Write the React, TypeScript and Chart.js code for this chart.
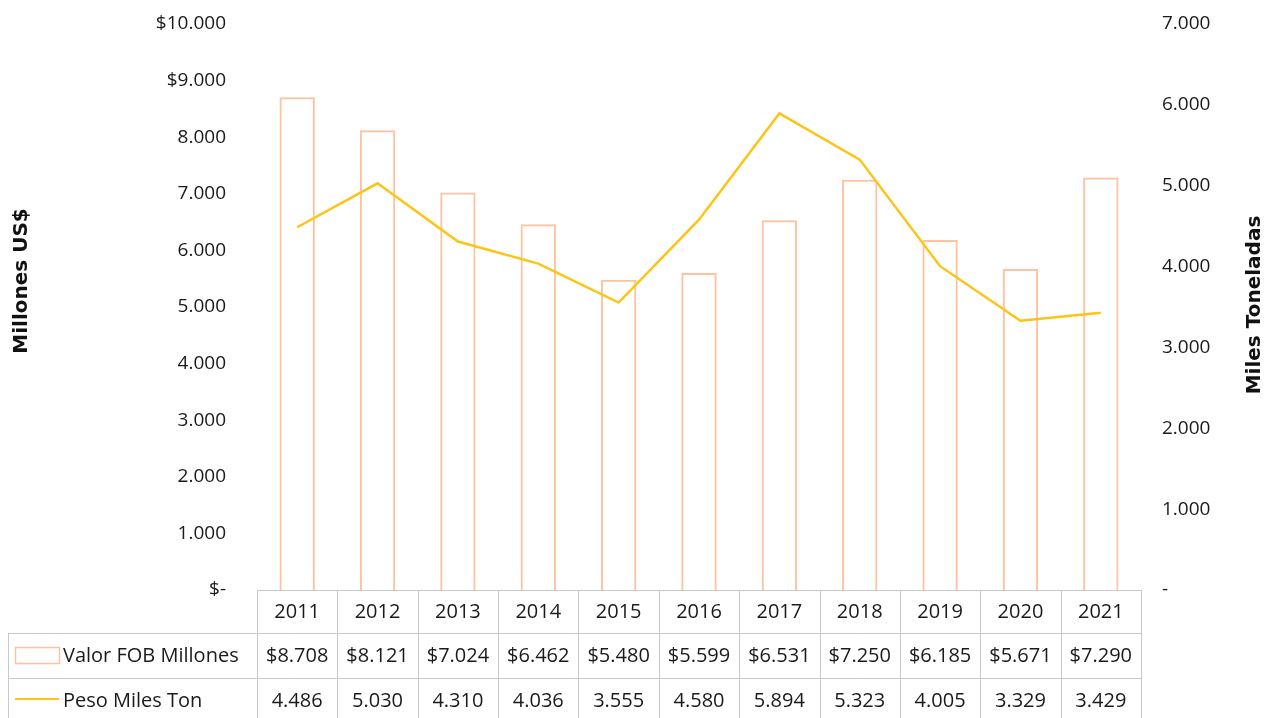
import React, { useEffect, useRef } from "react";
import { Chart, registerables } from "chart.js";

Chart.register(...registerables);

const years = ["2011", "2012", "2013", "2014", "2015", "2016", "2017", "2018", "2019", "2020", "2021"];
const valorFob = [8708, 8121, 7024, 6462, 5480, 5599, 6531, 7250, 6185, 5671, 7290];
const pesoMilesTon = [4486, 5030, 4310, 4036, 3555, 4580, 5894, 5323, 4005, 3329, 3429];
const valorLabels = ["$8.708", "$8.121", "$7.024", "$6.462", "$5.480", "$5.599", "$6.531", "$7.250", "$6.185", "$5.671", "$7.290"];
const pesoLabels = ["4.486", "5.030", "4.310", "4.036", "3.555", "4.580", "5.894", "5.323", "4.005", "3.329", "3.429"];
const leftTickLabels = ["$-", "1.000", "2.000", "3.000", "4.000", "5.000", "6.000", "7.000", "8.000", "$9.000", "$10.000"];
const rightTickLabels = ["-", "1.000", "2.000", "3.000", "4.000", "5.000", "6.000", "7.000"];
const seriesNames = ["Valor FOB Millones", "Peso Miles Ton"];
const axisTitles = ["Millones US$", "Miles Toneladas"];

const BAR_COLOR = "#FCC3A1";
const LINE_COLOR = "#FFC316";
const TEXT_COLOR = "#1a1a1a";
const GRID_COLOR = "#c9c9c9";
const FONT_FAMILY = "'Open Sans', 'Noto Sans', sans-serif";

const tablePlugin = {
  id: "dataTable",
  afterDraw(chart: any) {
    const ctx = chart.ctx as CanvasRenderingContext2D;
    const area = chart.chartArea;
    const xs = chart.scales.x;
    const n = years.length;
    const colW = (area.right - area.left) / n;
    const top0 = area.bottom;
    const r1 = top0 + 43;
    const r2 = r1 + 45;
    const r3 = r2 + 44;
    const tableLeft = 8;

    ctx.save();
    ctx.strokeStyle = GRID_COLOR;
    ctx.lineWidth = 1;
    ctx.beginPath();
    ctx.moveTo(area.left, top0 + 0.5);
    ctx.lineTo(area.right, top0 + 0.5);
    ctx.moveTo(tableLeft, r1 + 0.5);
    ctx.lineTo(area.right, r1 + 0.5);
    ctx.moveTo(tableLeft, r2 + 0.5);
    ctx.lineTo(area.right, r2 + 0.5);
    ctx.moveTo(tableLeft, r3 + 0.5);
    ctx.lineTo(area.right, r3 + 0.5);
    ctx.moveTo(tableLeft + 0.5, r1);
    ctx.lineTo(tableLeft + 0.5, r3);
    for (let i = 0; i <= n; i++) {
      const xPos = i < n ? xs.getPixelForValue(i) - colW / 2 : xs.getPixelForValue(n - 1) + colW / 2;
      const xx = Math.round(xPos) + 0.5;
      ctx.moveTo(xx, top0);
      ctx.lineTo(xx, r3);
    }
    ctx.stroke();

    ctx.fillStyle = TEXT_COLOR;
    ctx.font = `20px ${FONT_FAMILY}`;
    ctx.textAlign = "center";
    ctx.textBaseline = "middle";
    for (let i = 0; i < n; i++) {
      const cx = xs.getPixelForValue(i);
      ctx.fillText(years[i], cx, (top0 + r1) / 2 + 1);
      ctx.fillText(valorLabels[i], cx, (r1 + r2) / 2 + 1);
      ctx.fillText(pesoLabels[i], cx, (r2 + r3) / 2 + 1);
    }

    ctx.textAlign = "left";
    ctx.fillText(seriesNames[0], 63, (r1 + r2) / 2 + 1);
    ctx.fillText(seriesNames[1], 63, (r2 + r3) / 2 + 1);
    ctx.strokeStyle = BAR_COLOR;
    ctx.lineWidth = 1.5;
    ctx.strokeRect(15.5, r1 + 14.5, 44, 16);
    ctx.strokeStyle = LINE_COLOR;
    ctx.lineWidth = 2;
    ctx.beginPath();
    ctx.moveTo(15, (r2 + r3) / 2 - 1);
    ctx.lineTo(59, (r2 + r3) / 2 - 1);
    ctx.stroke();

    ctx.fillStyle = "#111111";
    ctx.font = `bold 20px 'DejaVu Sans', sans-serif`;
    ctx.textAlign = "center";
    ctx.textBaseline = "middle";
    ctx.save();
    ctx.translate(22, 281);
    ctx.rotate(-Math.PI / 2);
    ctx.fillText(axisTitles[0], 0, 0);
    ctx.restore();
    ctx.save();
    ctx.translate(1255, 305);
    ctx.rotate(-Math.PI / 2);
    ctx.fillText(axisTitles[1], 0, 0);
    ctx.restore();

    ctx.restore();
  },
};

export default function App() {
  const canvasRef = useRef<HTMLCanvasElement | null>(null);

  useEffect(() => {
    document.body.style.margin = "0";
    const canvas = canvasRef.current;
    if (!canvas) return;
    const chart = new Chart(canvas, {
      type: "bar",
      data: {
        labels: years,
        datasets: [
          {
            type: "line",
            label: seriesNames[1],
            data: pesoMilesTon,
            yAxisID: "y1",
            borderColor: LINE_COLOR,
            backgroundColor: LINE_COLOR,
            borderWidth: 2.5,
            pointRadius: 0,
            tension: 0,
            order: 0,
          } as any,
          {
            type: "bar",
            label: seriesNames[0],
            data: valorFob,
            yAxisID: "y",
            backgroundColor: "rgba(255,255,255,0)",
            borderColor: BAR_COLOR,
            borderWidth: 2,
            categoryPercentage: 1,
            barPercentage: 0.44,
            order: 1,
          } as any,
        ],
      },
      options: {
        responsive: false,
        devicePixelRatio: 1,
        animation: false,
        layout: { padding: { top: 24, bottom: 128, left: 0, right: 0 } },
        plugins: {
          legend: { display: false },
          tooltip: { enabled: false },
        },
        scales: {
          x: {
            display: false,
            offset: true,
            grid: { display: false },
          },
          y: {
            position: "left",
            min: 0,
            max: 10000,
            grid: { display: false, drawTicks: false },
            border: { display: false },
            ticks: {
              stepSize: 1000,
              padding: 31,
              color: TEXT_COLOR,
              font: { family: FONT_FAMILY, size: 19 },
              callback: (_v: any, i: number) => leftTickLabels[i],
            },
            afterFit: (axis: any) => {
              axis.width = 257;
              axis.paddingTop = 0;
              axis.paddingBottom = 0;
            },
          },
          y1: {
            position: "right",
            min: 0,
            max: 7000,
            grid: { display: false, drawTicks: false },
            border: { display: false },
            ticks: {
              stepSize: 1000,
              padding: 21,
              color: TEXT_COLOR,
              font: { family: FONT_FAMILY, size: 19 },
              callback: (_v: any, i: number) => rightTickLabels[i],
            },
            afterFit: (axis: any) => {
              axis.width = 126;
              axis.paddingTop = 0;
              axis.paddingBottom = 0;
            },
          },
        },
      } as any,
      plugins: [tablePlugin],
    });
    return () => chart.destroy();
  }, []);

  return (
    <div style={{ width: 1267, height: 718, background: "#ffffff" }}>
      <canvas ref={canvasRef} width={1267} height={718} />
    </div>
  );
}
